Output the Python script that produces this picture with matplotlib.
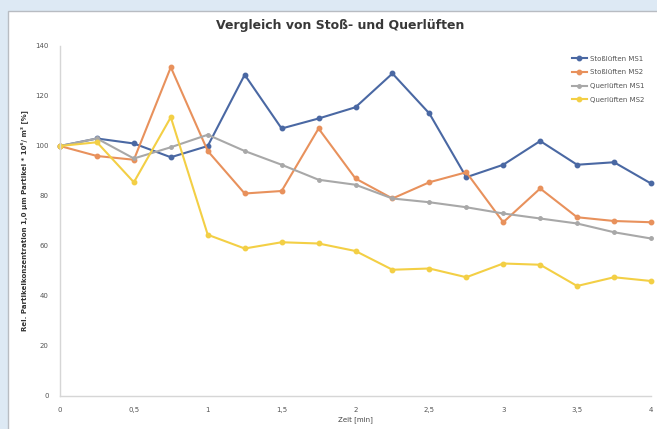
import matplotlib
matplotlib.use("Agg")
import matplotlib.pyplot as plt
from matplotlib.patches import Rectangle

# Zeit in Minuten (alle 15 s)
zeit = [0, 0.25, 0.5, 0.75, 1, 1.25, 1.5, 1.75, 2, 2.25, 2.5, 2.75, 3, 3.25, 3.5, 3.75, 4]

stoss_ms1 = [100, 103, 101, 95.5, 100, 128.5, 107, 111, 115.5, 129, 113, 87.5, 92.5, 102, 92.5, 93.5, 85]
stoss_ms2 = [100, 96, 94.5, 131.5, 98, 81, 82, 107, 87, 79, 85.5, 89.5, 69.5, 83, 71.5, 70, 69.5]
quer_ms1 = [100, 103, 95, 99.5, 104.5, 98, 92.5, 86.5, 84.5, 79, 77.5, 75.5, 73, 71, 69, 65.5, 63]
quer_ms2 = [100, 101.5, 85.5, 111.5, 64.5, 59, 61.5, 61, 58, 50.5, 51, 47.5, 53, 52.5, 44, 47.5, 46]

serien = [
    ("Stoßlüften MS1", stoss_ms1, "#4a68a3"),
    ("Stoßlüften MS2", stoss_ms2, "#e8915c"),
    ("Querlüften MS1", quer_ms1, "#a8a8a8"),
    ("Querlüften MS2", quer_ms2, "#f3cf45"),
]

x_ticks = [0, 0.5, 1, 1.5, 2, 2.5, 3, 3.5, 4]
x_ticklabels = ["0", "0,5", "1", "1,5", "2", "2,5", "3", "3,5", "4"]
y_ticks = [0, 20, 40, 60, 80, 100, 120, 140]

fig = plt.figure(figsize=(6.57, 4.29), dpi=100)
fig.patch.set_facecolor("#dde9f4")

# white chart panel with thin grey border
panel = Rectangle((8 / 657, -0.01), 1.0, 1 - 11 / 429 + 0.01,
                  transform=fig.transFigure, facecolor="white",
                  edgecolor="#b8bcc2", linewidth=1.0, zorder=-1)
fig.patches.append(panel)

ax = fig.add_axes([60 / 657, 33 / 429, 591 / 657, 350 / 429])
ax.set_zorder(2)
ax.set_facecolor("none")

for name, values, color in serien:
    ms = 2.5 if name == "Querlüften MS1" else 3.2
    ax.plot(zeit, values, color=color, linewidth=1.5, marker="o",
            markersize=ms, label=name, clip_on=False)

ax.set_xlim(0, 4)
ax.set_ylim(0, 140)
ax.set_xticks(x_ticks)
ax.set_xticklabels(x_ticklabels)
ax.set_yticks(y_ticks)
ax.tick_params(length=0, labelsize=5, colors="#555555", pad=8)

for side in ("top", "right"):
    ax.spines[side].set_visible(False)
for side in ("left", "bottom"):
    ax.spines[side].set_color("#d6d6d6")
    ax.spines[side].set_linewidth(1.0)

ax.set_xlabel("Zeit [min]", fontsize=5, color="#444444", labelpad=2)
ax.set_ylabel("Rel. Partikelkonzentration 1,0 µm Partikel * 10⁶/ m³ [%]",
              fontsize=5, color="#333333", fontweight="bold", labelpad=5)

fig.text(340 / 657, 1 - 25 / 429, "Vergleich von Stoß- und Querlüften",
         ha="center", va="center", fontsize=9, fontweight="bold", color="#383838")

leg = ax.legend(loc="upper right", bbox_to_anchor=(1.0, 0.99), fontsize=5,
                frameon=False, handlelength=2.2, labelspacing=1.1,
                handletextpad=0.5)
for t in leg.get_texts():
    t.set_color("#555555")

fig.savefig("out.png", dpi=100, facecolor=fig.get_facecolor())
